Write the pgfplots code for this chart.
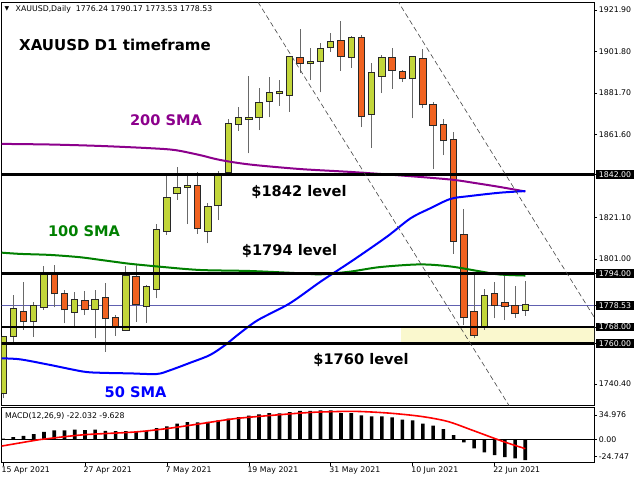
\documentclass[border=0pt]{standalone}
\usepackage{fontspec}
\setmainfont{DejaVu Sans}
\usepackage{pgfplots}
\usepackage{pgfplotstable}
\pgfplotsset{compat=1.18}

\definecolor{bullc}{RGB}{194,214,58}
\definecolor{bearc}{RGB}{240,98,32}
\definecolor{wickc}{RGB}{105,105,105}
\definecolor{outc}{RGB}{40,40,40}
\definecolor{smapurple}{RGB}{140,0,140}
\definecolor{smagreen}{RGB}{0,128,0}
\definecolor{smablue}{RGB}{0,0,255}
\definecolor{curline}{RGB}{96,96,176}
\definecolor{zone}{RGB}{250,248,206}
\definecolor{chan}{RGB}{70,70,70}

\pgfplotstableread{
i O H L C
0 1735.8 1763.6 1733.4 1763.0
1 1763.8 1783.6 1760.1 1776.6
3 1770.8 1780.3 1763.3 1778.4
4 1777.9 1797.8 1776.3 1793.3
7 1775.5 1785.2 1768.5 1781.1
9 1776.8 1786.0 1762.5 1781.1
12 1766.6 1797.6 1766.0 1792.8
14 1778.2 1788.4 1770.1 1787.4
15 1786.6 1818.0 1781.9 1815.1
16 1814.6 1842.9 1812.7 1830.5
17 1832.9 1845.5 1829.7 1835.3
18 1836.1 1843.0 1818.0 1836.5
20 1814.6 1828.4 1808.6 1826.4
21 1827.2 1843.7 1819.9 1841.5
22 1843.4 1868.8 1842.5 1866.4
23 1866.6 1874.7 1863.2 1869.3
24 1869.0 1889.9 1852.3 1869.6
25 1869.8 1883.9 1863.6 1876.9
26 1877.7 1889.2 1869.8 1881.8
27 1881.5 1887.9 1875.3 1881.9
28 1880.6 1898.9 1872.5 1898.9
30 1896.0 1903.3 1887.9 1896.5
31 1897.2 1906.0 1881.9 1903.0
32 1903.9 1910.6 1901.7 1906.5
34 1899.2 1909.3 1893.9 1908.2
36 1871.3 1896.0 1855.1 1891.2
37 1890.0 1900.1 1881.5 1898.7
40 1888.7 1899.2 1869.3 1899.2
47 1768.5 1786.3 1766.6 1783.1
51 1776.24 1790.17 1773.53 1778.53
}\bull

\pgfplotstableread{
i O H L C
2 1775.3 1790.0 1766.6 1770.8
5 1793.3 1798.1 1777.6 1784.4
6 1784.0 1785.8 1769.8 1776.6
8 1780.8 1785.6 1773.8 1776.6
10 1781.9 1789.2 1756.0 1772.2
11 1772.2 1773.8 1763.8 1768.6
13 1792.4 1798.6 1770.6 1779.0
19 1836.6 1843.4 1813.2 1815.9
29 1898.4 1912.5 1891.2 1896.0
33 1907.0 1916.6 1892.3 1899.6
35 1908.2 1909.8 1865.0 1870.4
38 1898.7 1903.3 1883.6 1892.8
39 1891.7 1892.8 1887.1 1888.7
41 1898.0 1902.8 1874.2 1876.1
42 1875.8 1877.4 1844.6 1866.2
43 1866.1 1868.8 1851.5 1858.6
44 1858.8 1862.5 1803.5 1809.9
45 1812.7 1825.2 1769.0 1772.7
46 1775.2 1793.3 1762.5 1764.1
48 1784.0 1790.0 1772.2 1778.7
49 1779.5 1793.3 1771.4 1778.2
50 1778.4 1787.9 1772.5 1774.7
}\bear

\pgfplotstableread{
i v
-0.13 1856.9
4.6 1856.6
9.5 1855.9
14.4 1854.8
16.8 1853.9
19.2 1851.5
21.2 1849.1
24.1 1846.9
29.0 1844.7
33.9 1843.3
38.8 1841.6
43.7 1839.6
46.1 1837.9
48.5 1836.0
51 1833.8
}\smaA

\pgfplotstableread{
i v
-0.13 1804.1
1.7 1803.5
4.6 1803.0
7.5 1801.9
9.5 1800.6
11.0 1799.6
12.4 1798.7
15.3 1797.3
19.2 1795.7
24.1 1795.2
29.0 1794.1
31.0 1793.6
33.9 1794.9
36.8 1797.1
40.7 1798.4
43.7 1797.4
46.6 1795.0
48.5 1793.5
51 1793.0
}\smaB

\pgfplotstableread{
i v
-0.13 1752.8
1.7 1752.3
4.6 1749.6
7.8 1746.4
9.5 1745.8
12.4 1745.5
15.0 1745.2
16.3 1747.0
18.3 1750.7
20.2 1754.4
21.7 1759.3
23.1 1764.9
24.9 1771.4
28.0 1779.5
31.0 1790.0
34.2 1800.5
37.5 1811.9
39.8 1820.8
41.7 1825.6
43.7 1830.2
45.6 1831.6
48.5 1833.2
51 1834.0
}\smaC

\pgfplotstableread{
i m
0 1.2
1 2.9
2 4.3
3 6.1
4 8.6
5 10.1
6 10.1
7 10.8
8 10.4
9 10.8
10 9.7
11 9.4
12 9.4
13 9.4
14 9.4
15 12.6
16 14.4
17 17.3
18 19.1
19 18.7
20 19.4
21 20.9
22 22.7
23 24.5
24 25.9
25 27.4
26 28.8
27 28.4
28 29.9
29 31.0
30 31.0
31 31.7
32 31.7
33 28.8
34 28.8
35 26.3
36 25.2
37 25.2
38 24.1
39 21.6
40 20.9
41 17.3
42 15.1
43 11.5
44 5.0
45 -2.9
46 -9.4
47 -13.7
48 -16.6
49 -18.7
50 -20.2
51 -22.032
}\macd

\pgfplotstableread{
i s
-0.13 -6.8
3.1 -0.7
4 0.7
7.9 5.4
12.8 8.3
16.1 12.2
19.3 17.3
22.6 22.7
25.8 25.9
29.1 28.8
31 29.9
34.3 30.6
37.6 28.8
40.8 25.2
43.4 19.8
45.7 10.8
48 1.4
49.3 -3.6
51 -9.628
}\signal

\newcommand{\smallfont}{\fontsize{7.8}{9}\selectfont}
\newcommand{\annfont}{\fontsize{14.6}{17}\selectfont\bfseries}

\begin{document}
\begin{tikzpicture}
\useasboundingbox (0,0) rectangle (640pt,-480pt);
\fill[white] (0,0) rectangle (640pt,-480pt);

\begin{axis}[
  at={(1.7pt,-2pt)}, anchor=north west,
  scale only axis, width=592.3pt, height=403pt,
  xmin=-0.13, xmax=57.71, ymin=1730.15, ymax=1925.78,
  axis line style={black, line width=0.8pt},
  xtick=\empty,
  ytick={1921.9,1901.8,1881.7,1861.6,1821.1,1801.0,1740.4},
  yticklabels={1921.90,1901.80,1881.70,1861.60,1821.10,1801.00,1740.40},
  ytick pos=right, yticklabel pos=right,
  tick align=outside, major tick length=3pt,
  tick style={black, line width=0.6pt},
  yticklabel style={anchor=west, inner sep=0pt, xshift=1.7pt, font=\smallfont},
  extra y ticks={1842,1794,1778.53,1768,1760},
  extra y tick labels={1842.00,1794.00,1778.53,1768.00,1760.00},
  extra y tick style={yticklabel style={fill=black, text=white, inner xsep=3pt, inner ysep=1.5pt, xshift=-3pt}},
]
% support zone
\addplot[fill=zone, draw=none, forget plot] coordinates {(38.9,1760) (60,1760) (60,1768) (38.9,1768)} -- cycle;
% current price line
\addplot[curline, line width=0.7pt, forget plot] coordinates {(-1,1778.53) (60,1778.53)};
% wicks
\addplot[draw=none, mark=none, forget plot, error bars/.cd, y dir=plus, y explicit, error mark=none,
  error bar style={draw=wickc, line width=1pt}]
  table[x=i, y=L, y error plus expr=\thisrow{H}-\thisrow{L}] {\bull};
\addplot[draw=none, mark=none, forget plot, error bars/.cd, y dir=plus, y explicit, error mark=none,
  error bar style={draw=wickc, line width=1pt}]
  table[x=i, y=L, y error plus expr=\thisrow{H}-\thisrow{L}] {\bear};
% body outlines
\addplot[draw=none, mark=none, forget plot, error bars/.cd, y dir=plus, y explicit, error mark=none,
  error bar style={draw=outc, line width=7.4pt}]
  table[x=i, y expr=\thisrow{O}-0.5, y error plus expr=\thisrow{C}-\thisrow{O}+1.0] {\bull};
\addplot[draw=none, mark=none, forget plot, error bars/.cd, y dir=plus, y explicit, error mark=none,
  error bar style={draw=outc, line width=7.4pt}]
  table[x=i, y expr=\thisrow{C}-0.5, y error plus expr=\thisrow{O}-\thisrow{C}+1.0] {\bear};
% body fills
\addplot[draw=none, mark=none, forget plot, error bars/.cd, y dir=plus, y explicit, error mark=none,
  error bar style={draw=bullc, line width=5.4pt}]
  table[x=i, y=O, y error plus expr=\thisrow{C}-\thisrow{O}] {\bull};
\addplot[draw=none, mark=none, forget plot, error bars/.cd, y dir=plus, y explicit, error mark=none,
  error bar style={draw=bearc, line width=5.4pt}]
  table[x=i, y=C, y error plus expr=\thisrow{O}-\thisrow{C}] {\bear};
% moving averages
\addplot[smapurple, line width=2pt, smooth, mark=none] table[x=i, y=v] {\smaA};
\addplot[smagreen, line width=2pt, smooth, mark=none] table[x=i, y=v] {\smaB};
\addplot[smablue, line width=2pt, smooth, mark=none] table[x=i, y=v] {\smaC};
% levels
\addplot[black, line width=2.2pt] coordinates {(-1,1842) (60,1842)};
\addplot[black, line width=2.2pt] coordinates {(-1,1794) (60,1794)};
\addplot[black, line width=2.2pt] coordinates {(-1,1768) (60,1768)};
\addplot[black, line width=2.2pt] coordinates {(-1,1760) (60,1760)};
% channel
\addplot[chan, line width=0.6pt, dash pattern=on 5pt off 3pt] coordinates {(36,1946.6) (60,1754.6)};
\addplot[chan, line width=0.6pt, dash pattern=on 5pt off 3pt] coordinates {(22,1948.9) (52,1709.2)};
\end{axis}

\begin{axis}[
  at={(1.7pt,-407.3pt)}, anchor=north west,
  scale only axis, width=592.3pt, height=55.4pt,
  xmin=-0.13, xmax=57.71, ymin=-24.747, ymax=34.976,
  axis line style={black, line width=0.8pt},
  xtick={0,8,16,24,32,40,48},
  xticklabels={15 Apr 2021,27 Apr 2021,7 May 2021,19 May 2021,31 May 2021,10 Jun 2021,22 Jun 2021},
  xtick pos=left,
  xticklabel style={anchor=north west, inner sep=0pt, xshift=-1.5pt, yshift=-1pt, font=\smallfont},
  ytick={26.6,0,-18.3},
  yticklabels={34.976,0.00,-24.747},
  ytick pos=right, yticklabel pos=right,
  tick align=outside, major tick length=3pt,
  tick style={black, line width=0.6pt},
  yticklabel style={anchor=west, inner sep=0pt, xshift=1.7pt, font=\smallfont},
]
\addplot[ybar, bar width=3.6pt, fill=black, draw=none] table[x=i, y=m] {\macd};
\addplot[black, line width=0.8pt] coordinates {(-1,0) (60,0)};
\addplot[red, line width=1.6pt, smooth, mark=none] table[x=i, y=s] {\signal};
\end{axis}

% texts
\node[anchor=west, inner sep=0pt, font=\fontsize{6}{7}\selectfont] at (4.5pt,-9.3pt) {▼};
\node[anchor=west, inner sep=0pt, font=\smallfont] at (15.5pt,-9.3pt) {XAUUSD,Daily\ \ 1776.24 1790.17 1773.53 1778.53};
\node[anchor=west, inner sep=0pt, font=\smallfont] at (5pt,-416pt) {MACD(12,26,9) -22.032 -9.628};
\node[font=\fontsize{15}{18}\selectfont\bfseries] at (115pt,-45pt) {XAUUSD D1 timeframe};
\node[text=smapurple, font=\annfont] at (166pt,-120.5pt) {200 SMA};
\node[text=smagreen, font=\annfont] at (84pt,-231.5pt) {100 SMA};
\node[text=smablue, font=\annfont] at (135.5pt,-392pt) {50 SMA};
\node[font=\annfont] at (299pt,-192pt) {\$1842 level};
\node[font=\annfont] at (289.5pt,-251.5pt) {\$1794 level};
\node[font=\annfont] at (361pt,-360pt) {\$1760 level};
\end{tikzpicture}
\end{document}
